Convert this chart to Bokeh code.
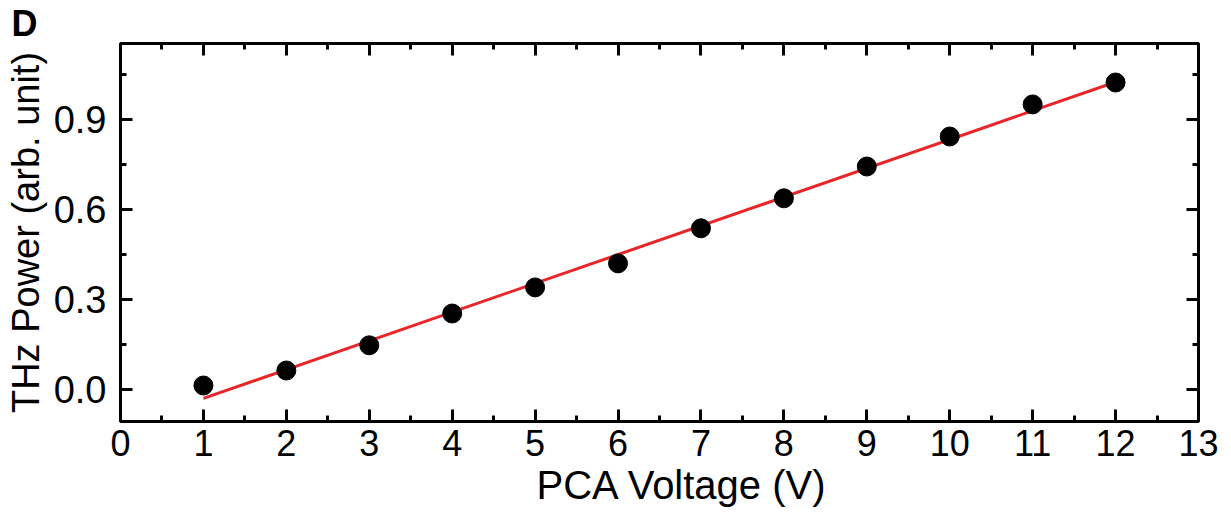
import numpy as np
from bokeh.plotting import figure
from bokeh.models import LinearAxis, FixedTicker, Range1d, Title, CustomJSTickFormatter
from bokeh.embed import file_html
from bokeh.resources import INLINE

voltage = [1, 2, 3, 4, 5, 6, 7, 8, 9, 10, 11, 12]
thz_power = [0.013, 0.063, 0.147, 0.253, 0.340, 0.420, 0.537, 0.637, 0.743, 0.843, 0.950, 1.023]
x_ticks = list(range(0, 14))
y_ticks = [0.0, 0.3, 0.6, 0.9]

slope, intercept = np.polyfit(voltage, thz_power, 1)
fit_x = [voltage[0], voltage[-1]]
fit_y = [slope * v + intercept for v in fit_x]

FONT = "Liberation Sans"

p = figure(frame_width=1078, frame_height=378, output_backend="svg", toolbar_location=None,
           x_range=Range1d(0, 13), y_range=Range1d(-0.107, 1.153),
           min_border_left=120, min_border_right=33, min_border_top=42, min_border_bottom=92,
           y_axis_label="THz Power (arb. unit)")
p.xgrid.visible = False
p.ygrid.visible = False
p.outline_line_color = "black"
p.outline_line_width = 3
p.background_fill_color = "white"
p.border_fill_color = "white"

def style_axis(ax):
    ax.axis_line_width = 3
    ax.axis_line_color = "black"
    ax.major_tick_in = 12
    ax.major_tick_out = 0
    ax.major_tick_line_width = 3
    ax.minor_tick_in = 6
    ax.minor_tick_out = 0
    ax.minor_tick_line_width = 3
    ax.major_label_text_font = FONT
    ax.major_label_text_color = "black"
    ax.axis_label_text_font = FONT
    ax.axis_label_text_font_style = "normal"
    ax.axis_label_text_color = "black"

x_minor = [x + 0.5 for x in x_ticks[:-1]]
y_minor = [-0.15, 0.15, 0.45, 0.75, 1.05]

xa = p.xaxis[0]
style_axis(xa)
xa.ticker = FixedTicker(ticks=x_ticks, minor_ticks=x_minor)
xa.major_label_text_font_size = "36px"
xa.major_label_standoff = 8

ya = p.yaxis[0]
style_axis(ya)
ya.ticker = FixedTicker(ticks=y_ticks, minor_ticks=y_minor)
ya.major_label_text_font_size = "38px"
ya.major_label_standoff = 14
ya.axis_label_text_font_size = "38px"
ya.axis_label_standoff = 4
ya.formatter = CustomJSTickFormatter(code="return tick.toFixed(1);")

blank = CustomJSTickFormatter(code="return '';")

top = LinearAxis(formatter=blank)
style_axis(top)
top.ticker = FixedTicker(ticks=x_ticks, minor_ticks=x_minor)
top.major_label_standoff = 0
top.major_label_text_font_size = "1px"
p.add_layout(top, "above")

right = LinearAxis(formatter=blank)
style_axis(right)
right.ticker = FixedTicker(ticks=y_ticks, minor_ticks=y_minor)
right.major_label_standoff = 0
right.major_label_text_font_size = "1px"
p.add_layout(right, "right")

# x-axis title (slightly right of centre, as in the reference)
p.add_layout(Title(text="PCA Voltage (V)", align="left", offset=416, standoff=4,
                   text_font=FONT, text_font_style="normal", text_font_size="40px",
                   text_color="black"), "below")

# panel letter
p.add_layout(Title(text="D", align="left", offset=-109, standoff=0,
                   text_font=FONT, text_font_style="bold", text_font_size="36px",
                   text_color="black"), "above")

p.line(fit_x, fit_y, line_color="#e8262a", line_width=3)
p.scatter(voltage, thz_power, size=19, fill_color="black", line_color="black")

open("out.html", "w").write(file_html(p, INLINE))
